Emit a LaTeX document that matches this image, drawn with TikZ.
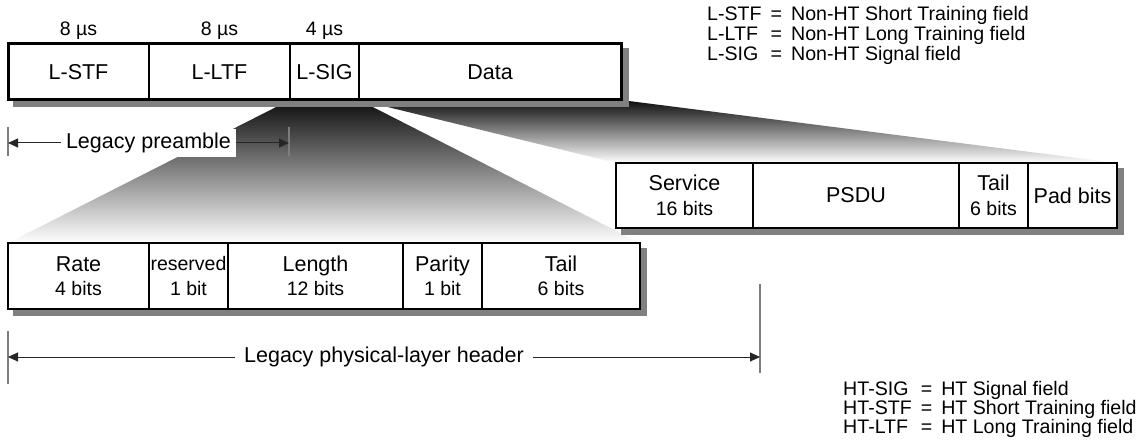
\documentclass[tikz,border=0pt]{standalone}
\usepackage{fontspec}
\setmainfont{Liberation Sans}
\usetikzlibrary{arrows.meta, positioning, fit, backgrounds}
\definecolor{shadowgray}{RGB}{128,128,128}
\definecolor{tickgray}{RGB}{125,125,125}
\newcommand{\bigtxt}{\fontsize{21.5}{24.5}\selectfont}
\newcommand{\subtxt}{\fontsize{19.5}{24.5}\selectfont}

\begin{document}
\begin{tikzpicture}[
  x=1pt, y=-1pt,
  fld/.style={draw=black, line width=1.6pt, fill=white, inner sep=0pt, outer sep=0pt,
              align=center, font=\bigtxt},
  toprow/.style={fld, minimum height=56pt},
  sigrow/.style={fld, minimum height=66pt},
  datarow/.style={fld, minimum height=65pt},
  rowframe/.style={draw=black, inner sep=0pt, line width=#1},
  durlbl/.style={font=\subtxt, anchor=base},
  dimtick/.style={draw=tickgray, line width=1.6pt},
  dimline/.style={arrows={Triangle[length=10pt,width=9pt]-Triangle[length=10pt,width=9pt]},
                  line width=1pt, draw=black!85, fill=black},
  dimlbl/.style={fill=white, font=\bigtxt, inner xsep=5pt, inner ysep=3.5pt},
  legend/.style={inner sep=0pt, anchor=base west, font=\fontsize{19.6}{#1}\selectfont}
]
\useasboundingbox (0,0) rectangle (1147,446);

% non-HT preamble
\node[toprow, minimum width=141pt, anchor=north west] (lstf) at (8,44) {L-STF};
\node[toprow, minimum width=141pt, right=0pt of lstf] (lltf) {L-LTF};
\node[toprow, minimum width=69pt, right=0pt of lltf] (lsig) {L-SIG};
\node[toprow, minimum width=262pt, right=0pt of lsig] (data) {Data};
\node[rowframe=3pt, fit=(lstf)(data)] (topframe) {};
\node[durlbl] (dstf) at ([yshift=8pt]lstf.north) {8 µs};
\node[durlbl] (dltf) at ([yshift=8pt]lltf.north) {8 µs};
\node[durlbl] (dsig) at ([yshift=8pt]lsig.north) {4 µs};

% L-SIG fields
\node[sigrow, minimum width=141pt, anchor=north west] (rate) at (8,243)
  {Rate\\{\subtxt 4 bits}};
\node[sigrow, minimum width=79pt, right=0pt of rate] (rsvd)
  {\subtxt reserved\\{\subtxt 1 bit}};
\node[sigrow, minimum width=175pt, right=0pt of rsvd] (length)
  {Length\\{\subtxt 12 bits}};
\node[sigrow, minimum width=79pt, right=0pt of length] (parity)
  {Parity\\{\subtxt 1 bit}};
\node[sigrow, minimum width=158pt, right=0pt of parity] (sigtail)
  {Tail\\{\subtxt 6 bits}};
\node[rowframe=2.4pt, fit=(rate)(sigtail)] (sigframe) {};

% Data fields
\node[datarow, minimum width=137pt, anchor=north west] (service) at (616,163)
  {Service\\{\subtxt 16 bits}};
\node[datarow, minimum width=206pt, right=0pt of service] (psdu) {PSDU};
\node[datarow, minimum width=69pt, right=0pt of psdu] (datatail)
  {Tail\\{\subtxt 6 bits}};
\node[datarow, minimum width=89pt, right=0pt of datatail] (pad) {Pad bits};
\node[rowframe=2.4pt, fit=(service)(pad)] (dataframe) {};

% fans and shadows
\begin{scope}[on background layer]
  \shade[top color=black!95, bottom color=white]
    (lsig.south west) -- (lsig.south east) -- (sigtail.north east) -- (rate.north west) -- cycle;
  \shade[top color=black!95, bottom color=white]
    (data.south west) -- (data.south east) -- (pad.north east) -- (service.north west) -- cycle;
  \fill[shadowgray] ([shift={(6pt,-6pt)}]topframe.south west) rectangle ([shift={(6pt,-6pt)}]topframe.north east);
  \fill[shadowgray] ([shift={(6pt,-6pt)}]sigframe.south west) rectangle ([shift={(6pt,-6pt)}]sigframe.north east);
  \fill[shadowgray] ([shift={(6pt,-6pt)}]dataframe.south west) rectangle ([shift={(6pt,-6pt)}]dataframe.north east);
\end{scope}

% dimension lines
\coordinate (preL) at (8,143);
\coordinate (preR) at (289,143);
\draw[dimtick] (preL) ++(0,-16) -- ++(0,29);
\draw[dimtick] (preR) ++(0,-16) -- ++(0,29);
\draw[dimline] (preL) -- node[dimlbl] (prelbl) {Legacy preamble} (preR);

\coordinate (hdrL) at (8,357);
\coordinate (hdrR) at (760,357);
\draw[dimtick] (hdrL) ++(0,-26) -- ++(0,53);
\draw[dimtick] (hdrR) ++(0,-73) -- ++(0,89);
\draw[dimline] (hdrL) -- node[dimlbl, inner xsep=9pt] (hdrlbl) {Legacy physical-layer header} (hdrR);

% abbreviations
\node[legend=18.3pt] (legL) at (707,21)
  {\begin{tabular}[t]{@{}l@{\hspace{9pt}=\hspace{9pt}}l@{}}
   L-STF & Non-HT Short Training field\\
   L-LTF & Non-HT Long Training field\\
   L-SIG & Non-HT Signal field
   \end{tabular}};
\node[legend=16.7pt] (legHT) at (843,395)
  {\begin{tabular}[t]{@{}l@{\hspace{9pt}=\hspace{9pt}}l@{}}
   HT-SIG & HT Signal field\\
   HT-STF & HT Short Training field\\
   HT-LTF & HT Long Training field
   \end{tabular}};
\end{tikzpicture}
\end{document}
